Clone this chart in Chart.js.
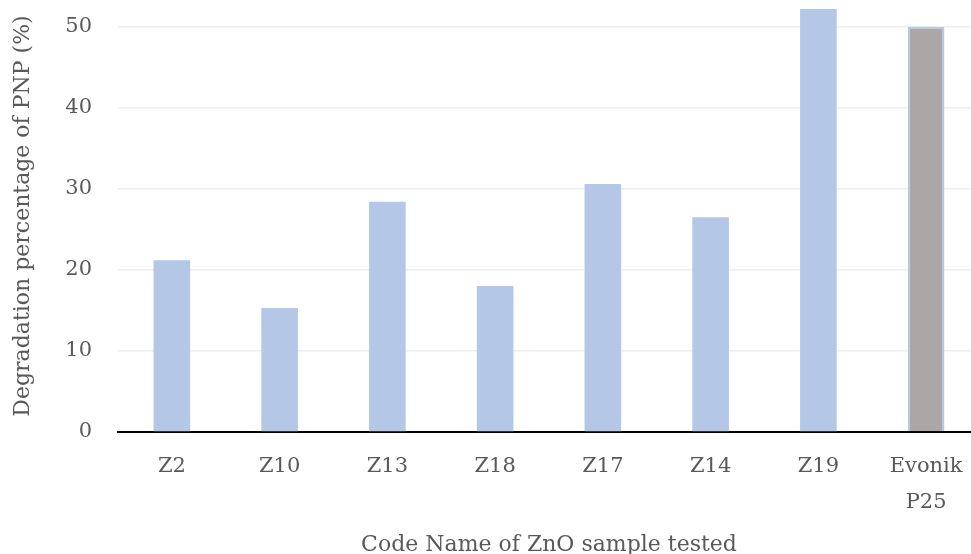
<!DOCTYPE html>
<html>
<head>
<meta charset="utf-8">
<script src="https://cdn.jsdelivr.net/npm/chart.js@4"></script>
<style>
  html, body { margin: 0; padding: 0; background: #fff; overflow: hidden; }
  #wrap { width: 980px; height: 554px; }
</style>
</head>
<body>
<div id="wrap"><canvas id="myChart" width="980" height="554"></canvas></div>
<script>
var samples = ["Z2", "Z10", "Z13", "Z18", "Z17", "Z14", "Z19", ["Evonik", "P25"]];
var degradation = [21.2, 15.3, 28.4, 18.0, 30.6, 26.5, 52.2, 50.0];
var yTicks = [0, 10, 20, 30, 40, 50];

var barBlue = "#B4C7E7";
var barGrey = "#ABA7A7";
var textGrey = "#595959";

var fills = [];
var borders = [];
var borderWidths = [];
for (var i = 0; i < samples.length; i++) {
	var isRef = Array.isArray(samples[i]);
	fills[i] = isRef ? barGrey : barBlue;
	borders[i] = barBlue;
	borderWidths[i] = isRef ? 2 : 0;
}

var ctx = document.getElementById("myChart");
var myChart = new Chart(ctx, {
	type: 'bar',
	data: {
		labels: samples,
		datasets: [{
			label: 'Degradation',
			data: degradation,
			backgroundColor: fills,
			borderColor: borders,
			borderWidth: borderWidths,
			categoryPercentage: 1,
			barPercentage: 0.34
		}]
	},
	options: {
		responsive: false,
		animation: false,
		layout: { padding: 0 },
		plugins: {
			legend: { display: false },
			tooltip: { enabled: false }
		},
		scales: {
			x: {
				grid: { display: false, drawTicks: false },
				border: { display: true, color: "#000000", width: 2 },
				ticks: {
					color: textGrey,
					padding: 16,
					maxRotation: 0,
					autoSkip: false,
					font: { family: "'DejaVu Serif', serif", size: 21, lineHeight: 1.73 }
				},
				title: {
					display: true,
					text: "Code Name of ZnO sample tested",
					color: textGrey,
					padding: { top: 0, bottom: -4 },
					font: { family: "'DejaVu Serif', serif", size: 22, lineHeight: 1.2 }
				},
				afterFit: function(scale) { scale.height = 122; }
			},
			y: {
				min: 0,
				max: 53.3,
				grid: { color: "#EEEEEE", lineWidth: 1.5, drawTicks: false },
				border: { display: false },
				afterBuildTicks: function(scale) {
					scale.ticks = yTicks.map(function(v) { return { value: v }; });
				},
				ticks: {
					color: textGrey,
					padding: 26,
					includeBounds: false,
					font: { family: "'DejaVu Serif', serif", size: 21 }
				},
				title: {
					display: true,
					text: "Degradation percentage of PNP (%)",
					color: textGrey,
					padding: { top: 10, bottom: 0 },
					font: { family: "'DejaVu Serif', serif", size: 22, lineHeight: 1.2 }
				},
				afterFit: function(scale) {
					scale.width = 118;
					scale.paddingTop = 0;
					scale.paddingBottom = 0;
				}
			}
		}
	}
});
</script>
</body>
</html>
